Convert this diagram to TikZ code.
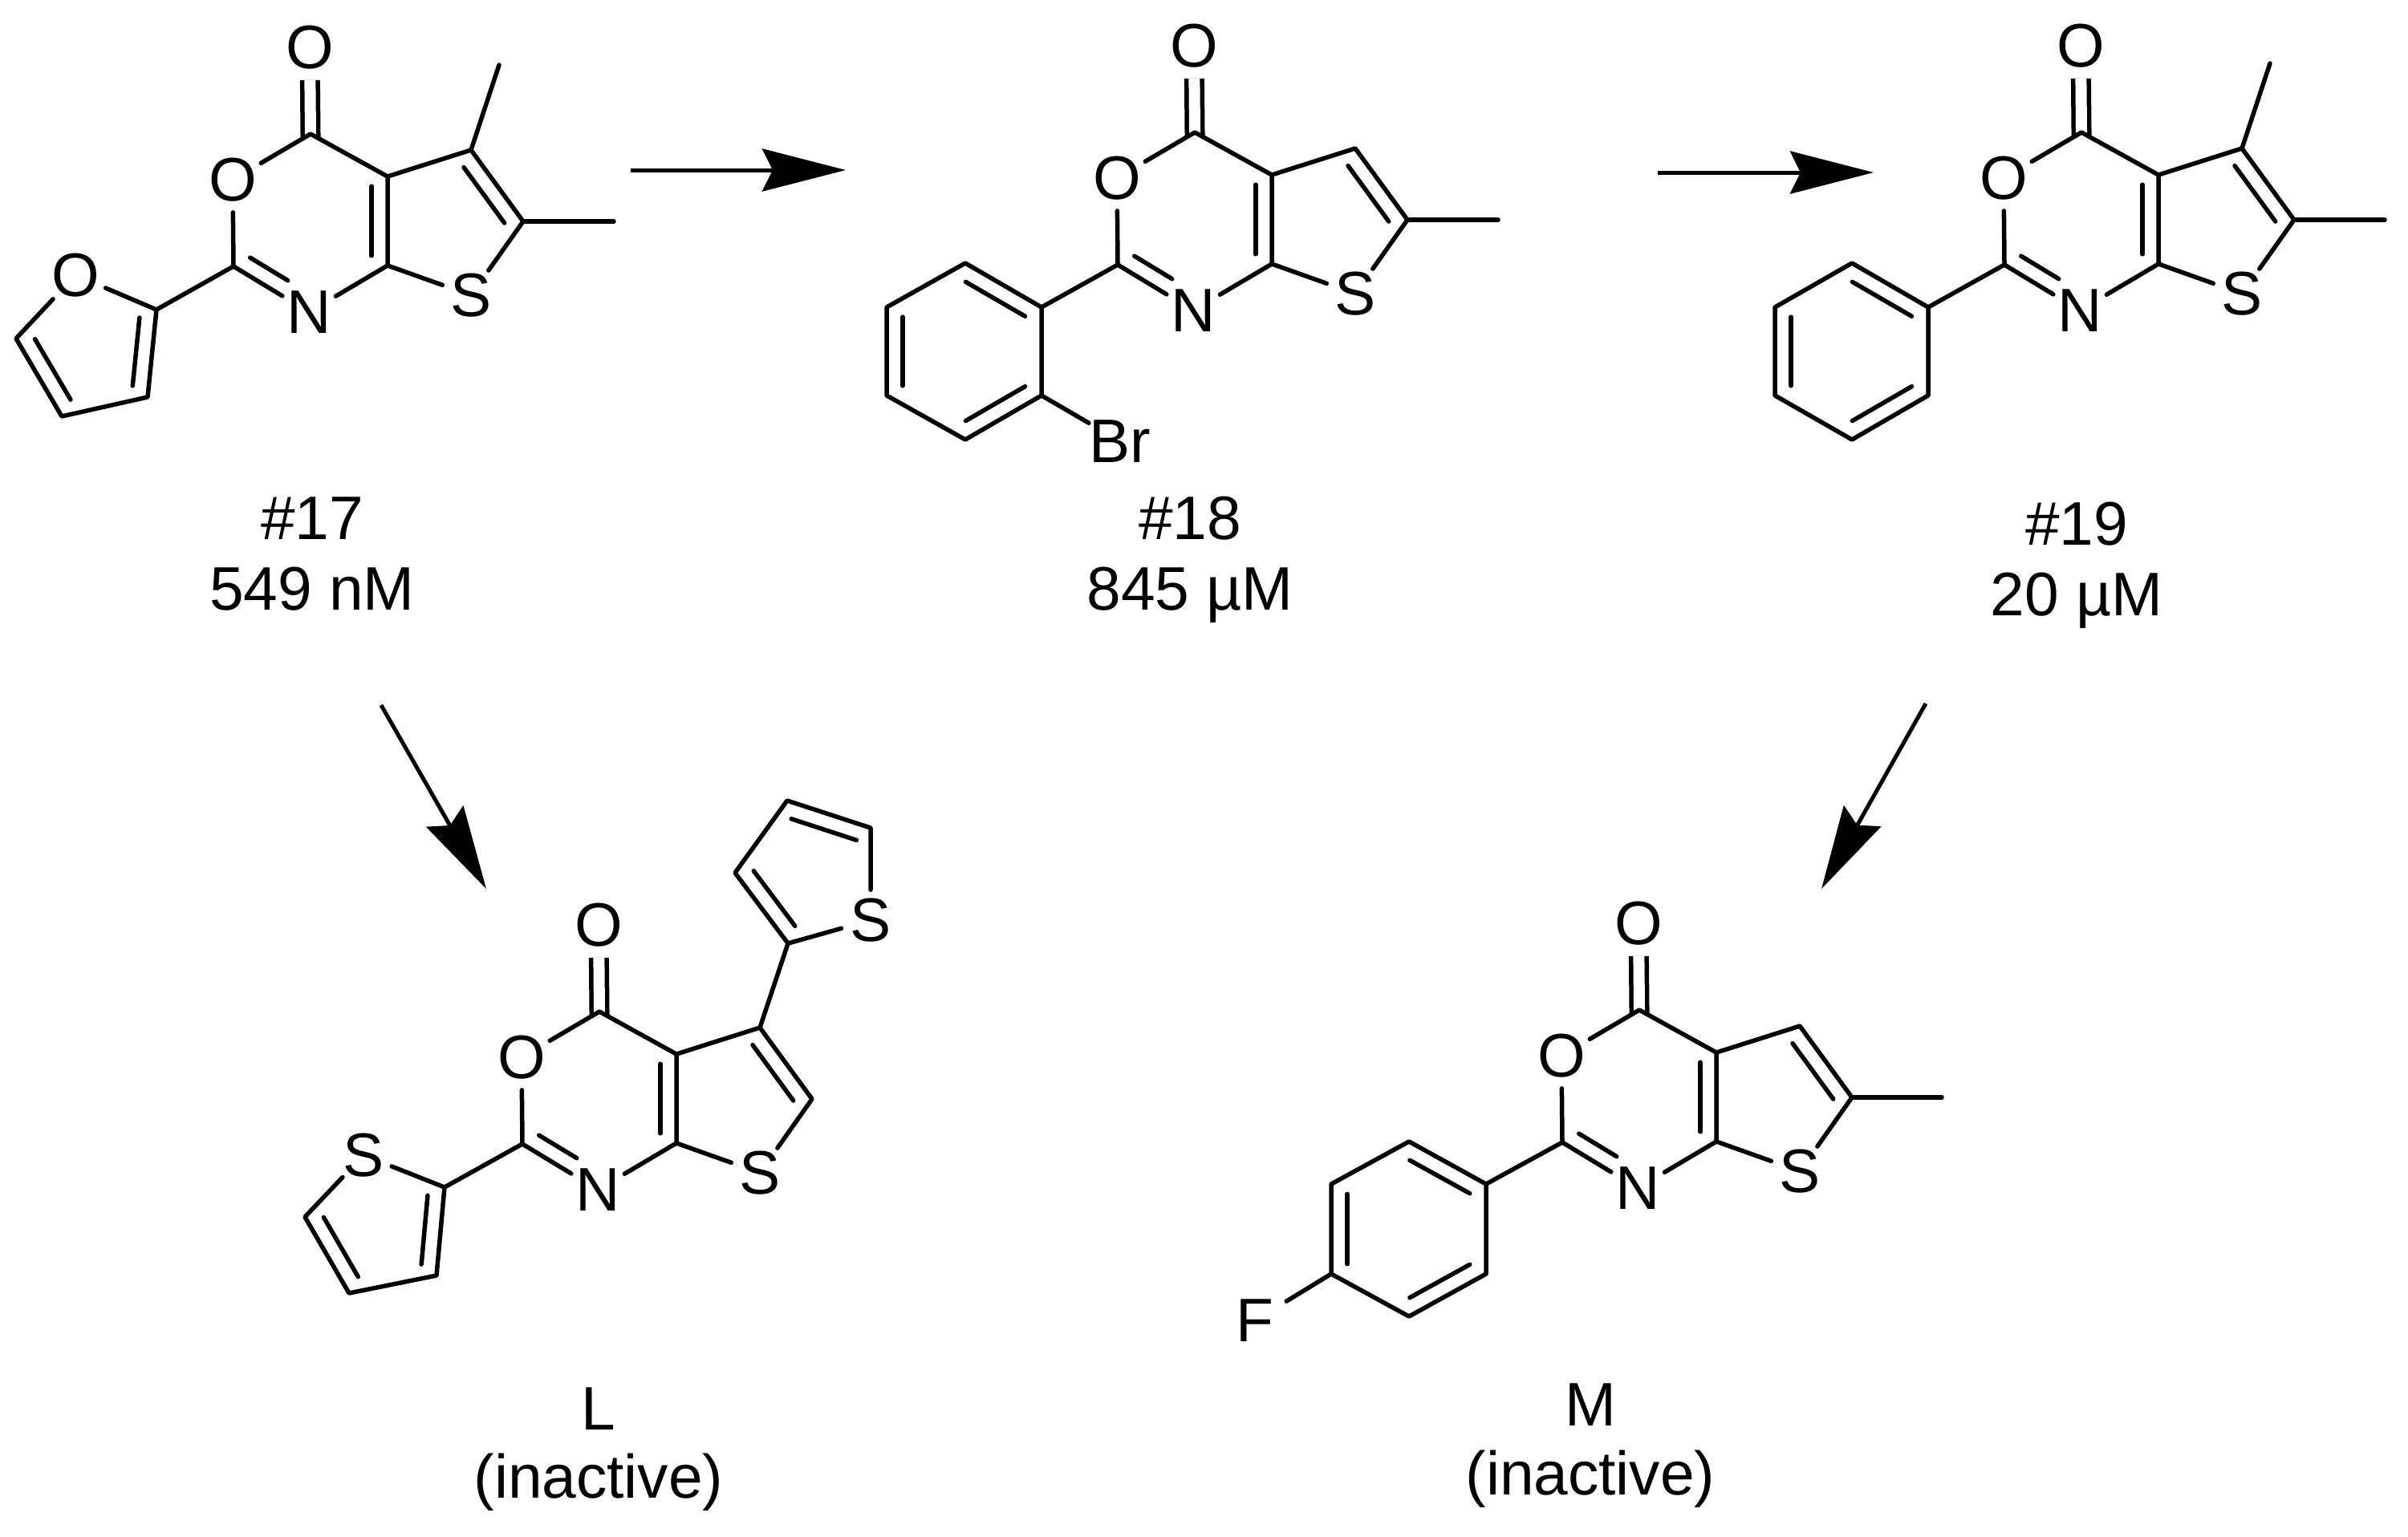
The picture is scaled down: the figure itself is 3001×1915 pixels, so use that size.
\documentclass[tikz,border=0pt]{standalone}
\usepackage{fontspec}
\setmainfont{Liberation Sans}
\usetikzlibrary{calc,arrows.meta}

\newcommand{\chemfont}{\fontsize{21.8}{26}\selectfont}
% inner line of a double bond, on the left going from #2 to #3
\newcommand{\dbl}[3][.11]{\draw[bond] ($(#2)!.11!(#3)!.2cm!90:(#3)$) -- ($(#3)!#1!(#2)!.2cm!-90:(#2)$);}

\tikzset{
  bond/.style={line width=.055cm,line cap=round,line join=round},
  atom/.style={shape=circle,inner sep=0pt,font=\chemfont},
  lbl/.style={anchor=base,inner sep=0pt,font=\chemfont},
  rxn/.style={line width=.05cm,-{Stealth[length=1.04cm,width=.53cm,inset=.13cm]}},
  core/.pic={
    \coordinate (-c4) at (387,167);
    \coordinate (-c2) at (291,332);
    \coordinate (-c7a) at (483,331);
    \coordinate (-c4a) at (483,220);
    \coordinate (-c5) at (587,187);
    \coordinate (-c6) at (652,276);
    \node[atom] (-oc) at (386,59) {O};
    \node[atom] (-o1) at (290,224) {O};
    \node[atom] (-n) at (385,389) {N};
    \node[atom] (-s) at (587,368) {S};
    \draw[bond,line cap=butt,double,double distance=.14cm,shorten <=-.07cm] (-c4) -- (-oc);
    \draw[bond] (-c2) -- (-o1) -- (-c4) -- (-c4a) -- (-c7a) -- (-n) -- (-c2);
    \draw[bond] (-c4a) -- (-c5) -- (-c6) -- (-s) -- (-c7a);
    \dbl{-c7a}{-c4a}
    \dbl{-c6}{-c5}
    \dbl[.39]{-c2}{-n}
  }
}

\begin{document}
\begin{tikzpicture}[x=.01cm,y=-.01cm]
\useasboundingbox (0,0) rectangle (3001,1915);

% #17
\pic (m17) at (0,0) {core};
\coordinate (m17me1) at (622,81);
\coordinate (m17me2) at (765,276);
\coordinate (f2) at (195,386);
\coordinate (f3) at (184,495);
\coordinate (f4) at (77,519);
\coordinate (f5) at (20,422);
\node[atom] (fo) at (94,343) {O};
\draw[bond] (m17-c5) -- (m17me1);
\draw[bond] (m17-c6) -- (m17me2);
\draw[bond] (m17-c2) -- (f2) -- (f3) -- (f4) -- (f5) -- (fo) -- (f2);
\dbl{f3}{f2}
\dbl{f5}{f4}
\node[lbl] (n17) at (389,672) {\#17};
\node[lbl] (v17) at (389,760) {549 nM};

% #18
\pic (m18) at (1102,-2) {core};
\coordinate (m18me) at (1867,274);
\coordinate (b1) at (1298,383);
\coordinate (b2) at (1203,328);
\coordinate (b3) at (1105,383);
\coordinate (b4) at (1105,493);
\coordinate (b5) at (1203,548);
\coordinate (b6) at (1298,493);
\node[inner sep=0pt,font=\chemfont] (br) at (1396,550) {Br};
\draw[bond] (m18-c6) -- (m18me);
\draw[bond] (m18-c2) -- (b1) -- (b2) -- (b3) -- (b4) -- (b5) -- (b6) -- (b1);
\draw[bond] (b6) -- (br);
\dbl{b1}{b2}
\dbl{b3}{b4}
\dbl{b5}{b6}
\node[lbl] (n18) at (1483,672) {\#18};
\node[lbl] (v18) at (1483,760) {845 µM};

% #19
\pic (m19) at (2207,-2) {core};
\coordinate (m19me1) at (2829,79);
\coordinate (m19me2) at (2972,274);
\coordinate (p1) at (2403,383);
\coordinate (p2) at (2308,328);
\coordinate (p3) at (2212,383);
\coordinate (p4) at (2212,493);
\coordinate (p5) at (2308,548);
\coordinate (p6) at (2403,493);
\draw[bond] (m19-c5) -- (m19me1);
\draw[bond] (m19-c6) -- (m19me2);
\draw[bond] (m19-c2) -- (p1) -- (p2) -- (p3) -- (p4) -- (p5) -- (p6) -- (p1);
\dbl{p1}{p2}
\dbl{p3}{p4}
\dbl{p5}{p6}
\node[lbl] (n19) at (2588,679) {\#19};
\node[lbl] (v19) at (2588,767) {20 µM};

% L
\pic (ml) at (360,1094) {core};
\coordinate (t2) at (554,1480);
\coordinate (t3) at (544,1590);
\coordinate (t4) at (435,1612);
\coordinate (t5) at (380,1517);
\node[atom] (ts) at (453,1440) {S};
\coordinate (u2) at (982,1176);
\coordinate (u3) at (916,1088);
\coordinate (u4) at (981,998);
\coordinate (u5) at (1085,1032);
\node[atom] (us) at (1085,1147) {S};
\draw[bond] (ml-c2) -- (t2) -- (t3) -- (t4) -- (t5) -- (ts) -- (t2);
\draw[bond] (ml-c5) -- (u2) -- (u3) -- (u4) -- (u5) -- (us) -- (u2);
\dbl{t3}{t2}
\dbl{t5}{t4}
\dbl{u3}{u2}
\dbl{u5}{u4}
\node[lbl] (nl) at (746,1782) {L};
\node[lbl] (vl) at (746,1867) {(inactive)};

% M
\pic (mm) at (1656,1092) {core};
\coordinate (mmme) at (2420,1368);
\coordinate (a1) at (1852,1476);
\coordinate (a2) at (1756,1423);
\coordinate (a3) at (1659,1476);
\coordinate (a4) at (1659,1588);
\coordinate (a5) at (1756,1641);
\coordinate (a6) at (1852,1588);
\node[atom,inner sep=2pt] (fl) at (1564,1646) {F};
\draw[bond] (mm-c6) -- (mmme);
\draw[bond] (mm-c2) -- (a1) -- (a2) -- (a3) -- (a4) -- (a5) -- (a6) -- (a1);
\draw[bond] (a4) -- (fl);
\dbl{a1}{a2}
\dbl{a3}{a4}
\dbl{a5}{a6}
\node[lbl] (nm) at (1982,1777) {M};
\node[lbl] (vm) at (1982,1863) {(inactive)};

% arrows
\coordinate (r1s) at (786,212);
\coordinate (r1e) at (1054,212);
\coordinate (r2s) at (2066,215);
\coordinate (r2e) at (2335,215);
\coordinate (r3s) at (475,879);
\coordinate (r3e) at (606,1108);
\coordinate (r4s) at (2400,877);
\coordinate (r4e) at (2270,1108);
\draw[rxn] (r1s) -- (r1e);
\draw[rxn] (r2s) -- (r2e);
\draw[rxn] (r3s) -- (r3e);
\draw[rxn] (r4s) -- (r4e);
\end{tikzpicture}
\end{document}
